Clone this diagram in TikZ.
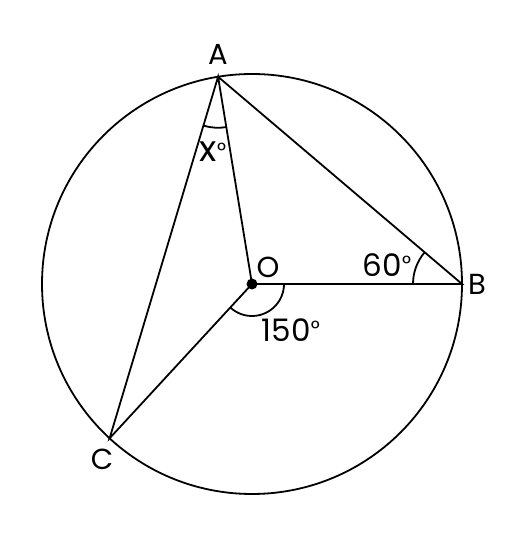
\documentclass[tikz,border=0pt]{standalone}
\usepackage{fontspec}
\setmainfont{Poppins}
\usetikzlibrary{angles}
\begin{document}
\begin{tikzpicture}[x=1pt,y=1pt,line width=1.8pt,
  lbl/.style={inner sep=0pt,font=\fontsize{29}{29}\selectfont},
  num/.style={inner sep=0pt,font=\fontsize{31}{31}\selectfont},
  deg/.style={inner sep=0pt,font=\fontsize{22}{22}\selectfont},
  anglemark/.style={draw,line width=1.8pt}]
\useasboundingbox (0,0) rectangle (531,537);
\coordinate (O) at (252,253);
\path (O) ++(0:210) coordinate (B);
\path (O) ++(99.3:210) coordinate (A);
\path (O) ++(227.3:210) coordinate (C);
\draw (O) circle[radius=210];
\draw (A) -- (B) -- (O) -- (A) -- (C) -- (O);
\pic[anglemark,angle radius=51] {angle=C--A--O};
\pic[anglemark,angle radius=32] {angle=C--O--B};
\pic[anglemark,angle radius=49] {angle=A--B--O};
\fill (O) circle[radius=5.5];
\node[lbl] (lA) at (218,483) {A};
\node[lbl] (lO) at (268,270) {O};
\node[lbl] (lB) at (477,253) {B};
\node[lbl] (lC) at (102,78) {C};
\node[num,anchor=base west] (l60) at (362,260) {60\raisebox{5pt}{\fontsize{22}{22}\selectfont°}};
\node[num,anchor=base west] (l150) at (261,195) {150\raisebox{5pt}{\fontsize{22}{22}\selectfont°}};
\node[num,anchor=base west,font=\fontsize{36}{36}\selectfont] (lx) at (199,375) {x\raisebox{3pt}{\fontsize{22}{22}\selectfont°}};
\end{tikzpicture}
\end{document}
